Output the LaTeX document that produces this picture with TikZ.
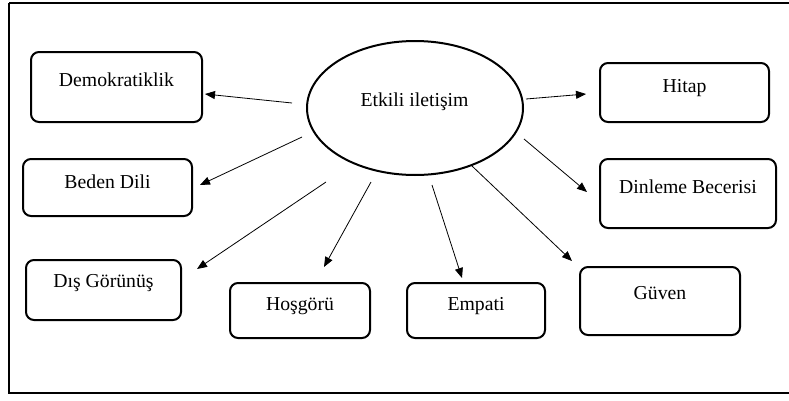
\documentclass[tikz,border=0pt]{standalone}
\usepackage{fontspec}
\setmainfont{Liberation Serif}
\usetikzlibrary{arrows.meta,shapes.geometric}
\begin{document}
\begin{tikzpicture}[x=0.75pt,y=-0.75pt,
  box/.style={draw,line width=1.5pt,rounded corners=6pt,inner sep=0pt},
  lbl/.style={font=\fontsize{14.8pt}{17pt}\selectfont,inner sep=0pt},
  arr/.style={line width=0.6pt,-{Triangle[length=7.5pt,width=6pt]}}]
\useasboundingbox (0,0) rectangle (789,400);
\draw[line width=1.5pt] (9,3) -- (792,3) (9,3) -- (9,393) -- (792,393);
% central ellipse
\node[draw,ellipse,line width=1.5pt,minimum width=162pt,minimum height=100.5pt,inner sep=0pt] (e) at (415,108) {};
\node[lbl] (et) at (414.5,102) {Etkili iletişim};
% boxes
\node[box,minimum width=128.25pt,minimum height=52.5pt] (demo) at (116.5,87) {};
\node[box,minimum width=126.75pt,minimum height=42.75pt] (beden) at (107.5,187.5) {};
\node[box,minimum width=116.25pt,minimum height=45pt] (dis) at (103.5,290) {};
\node[box,minimum width=105pt,minimum height=41.25pt] (hos) at (300,310.5) {};
\node[box,minimum width=103.5pt,minimum height=41.25pt] (emp) at (476,310.5) {};
\node[box,minimum width=120pt,minimum height=51pt] (guv) at (660,301) {};
\node[box,minimum width=126.75pt,minimum height=44.25pt] (hit) at (684.5,92.5) {};
\node[box,minimum width=132pt,minimum height=51.75pt] (din) at (688,193.5) {};
% labels
\node[lbl] (demot) at (116.5,80) {Demokratiklik};
\node[lbl] (bedent) at (107.5,182) {Beden Dili};
\node[lbl] (dist) at (103.5,283) {Dış Görünüş};
\node[lbl] (host) at (300,306) {Hoşgörü};
\node[lbl] (empt) at (476,306) {Empati};
\node[lbl] (guvt) at (660,293) {Güven};
\node[lbl] (hitt) at (684.5,88) {Hitap};
\node[lbl] (dint) at (688,187) {Dinleme Becerisi};
% connector ends
\coordinate (t1) at (292,103); \coordinate (h1) at (205,94);
\coordinate (t2) at (302,137); \coordinate (h2) at (200,185);
\coordinate (t3) at (326,182); \coordinate (h3) at (197,269);
\coordinate (t4) at (371,182); \coordinate (h4) at (324,267);
\coordinate (t5) at (432,185); \coordinate (h5) at (462,278);
\coordinate (t6) at (472,166); \coordinate (h6) at (572,261);
\coordinate (t7) at (526,99);  \coordinate (h7) at (586,94);
\coordinate (t8) at (524,139); \coordinate (h8) at (587,192);
\draw[arr] (t1) -- (h1);
\draw[arr] (t2) -- (h2);
\draw[arr] (t3) -- (h3);
\draw[arr] (t4) -- (h4);
\draw[arr] (t5) -- (h5);
\draw[arr] (t6) -- (h6);
\draw[arr] (t7) -- (h7);
\draw[arr] (t8) -- (h8);
\end{tikzpicture}
\end{document}
